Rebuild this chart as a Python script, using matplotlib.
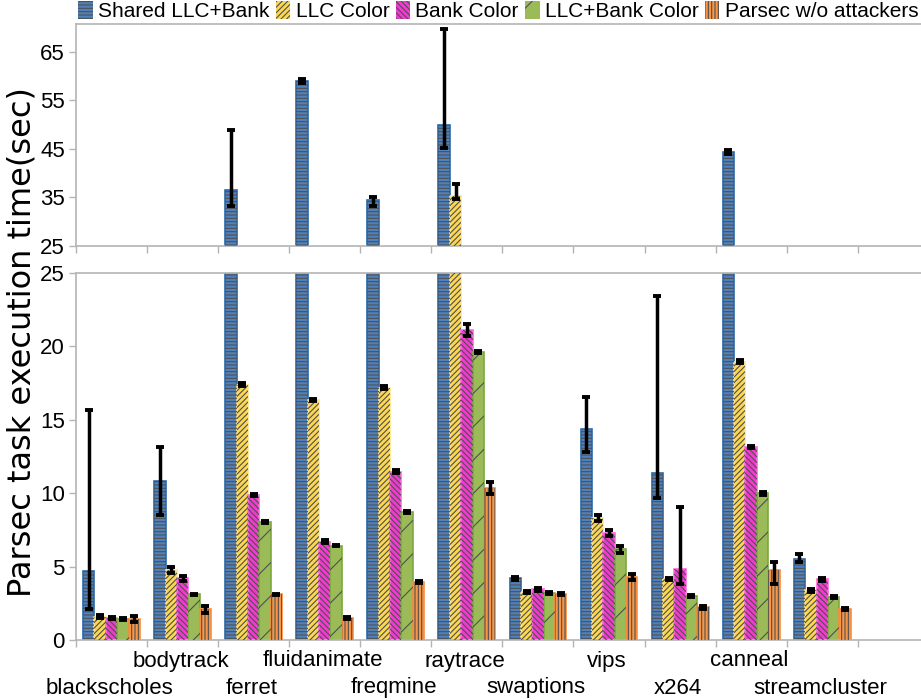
import matplotlib
matplotlib.use("Agg")
import matplotlib.pyplot as plt
from matplotlib.patches import Patch
from matplotlib.transforms import blended_transform_factory
import numpy as np

plt.rcParams['font.family'] = ['Liberation Sans', 'DejaVu Sans']
plt.rcParams['hatch.linewidth'] = 0.8

benchmarks = ['blackscholes', 'bodytrack', 'ferret', 'fluidanimate', 'freqmine',
              'raytrace', 'swaptions', 'vips', 'x264', 'canneal', 'streamcluster']

series_names = ['Shared LLC+Bank', 'LLC Color', 'Bank Color', 'LLC+Bank Color',
                'Parsec w/o attackers']

shared_llc_bank = [4.7, 10.8, 36.6, 59.0, 34.4, 50.0, 4.2, 14.4, 11.4, 44.4, 5.55]
llc_color = [1.6, 4.77, 17.4, 16.35, 17.2, 35.3, 3.25, 8.29, 4.13, 18.96, 3.38]
bank_color = [1.5, 4.2, 9.87, 6.7, 11.47, 21.1, 3.47, 7.27, 4.81, 13.15, 4.13]
llc_bank_color = [1.45, 3.1, 8.06, 6.43, 8.7, 19.6, 3.18, 6.18, 3.0, 9.99, 2.91]
parsec_alone = [1.41, 2.1, 3.1, 1.52, 3.93, 10.33, 3.13, 4.31, 2.23, 4.77, 2.11]

# error bar extents below / above each value
shared_err_minus = [2.6, 2.3, 3.4, 0.4, 1.2, 4.9, 0.1, 1.6, 1.7, 0.4, 0.25]
shared_err_plus = [11.0, 2.35, 12.2, 0.5, 0.7, 19.8, 0.1, 2.15, 12.0, 0.4, 0.3]
llc_err_minus = [0.08, 0.23, 0.08, 0.08, 0.1, 0.7, 0.06, 0.2, 0.06, 0.08, 0.08]
llc_err_plus = [0.08, 0.23, 0.08, 0.08, 0.1, 2.5, 0.06, 0.2, 0.06, 0.08, 0.08]
bank_err_minus = [0.06, 0.17, 0.08, 0.08, 0.12, 0.4, 0.1, 0.2, 1.0, 0.08, 0.08]
bank_err_plus = [0.06, 0.17, 0.08, 0.08, 0.12, 0.4, 0.1, 0.2, 4.27, 0.08, 0.08]
llcbank_err_minus = [0.06, 0.06, 0.06, 0.06, 0.08, 0.08, 0.06, 0.25, 0.06, 0.08, 0.06]
llcbank_err_plus = [0.06, 0.06, 0.06, 0.06, 0.08, 0.08, 0.06, 0.25, 0.06, 0.08, 0.06]
parsec_err_minus = [0.2, 0.23, 0.06, 0.06, 0.08, 0.4, 0.06, 0.2, 0.12, 0.96, 0.06]
parsec_err_plus = [0.2, 0.23, 0.06, 0.06, 0.08, 0.4, 0.06, 0.2, 0.12, 0.57, 0.06]

values = [shared_llc_bank, llc_color, bank_color, llc_bank_color, parsec_alone]
err_minus = [shared_err_minus, llc_err_minus, bank_err_minus, llcbank_err_minus, parsec_err_minus]
err_plus = [shared_err_plus, llc_err_plus, bank_err_plus, llcbank_err_plus, parsec_err_plus]

face_colors = ['#4f81bd', '#fcd752', '#f23ad0', '#9bbb59', '#f79646']
edge_colors = ['#2f6aa8', '#ffe58a', '#ff6ae0', '#7aa83e', '#fb8c3c']
hatches = ['-----', '//////', '\\\\\\\\\\\\', '/', '|||||']
hatch_color = '#505050'
spine_color = '#b4b4b4'

W, H = 921, 700
fig = plt.figure(figsize=(W / 100, H / 100), dpi=100)
left = 76 / W
width = (W - 76) / W
ax_top = fig.add_axes([left, 1 - 245.7 / H, width, (245.7 - 24) / H])
ax_bot = fig.add_axes([left, 1 - 640 / H, width, (640 - 273) / H])

x = np.arange(len(benchmarks))
bar_w = 0.16
offsets = (np.arange(5) - 2) * bar_w

for ax in (ax_top, ax_bot):
    for i in range(5):
        xs = x + offsets[i]
        ax.bar(xs, values[i], width=bar_w, color=face_colors[i],
               edgecolor=edge_colors[i], linewidth=1.2, zorder=2)
        ax.bar(xs, values[i], width=bar_w, color='none',
               edgecolor=hatch_color, linewidth=0, hatch=hatches[i], zorder=3)
        ax.errorbar(xs, values[i], yerr=[err_minus[i], err_plus[i]], fmt='none',
                    ecolor='black', elinewidth=2.5, capsize=2.6, capthick=2.8, zorder=4)
    ax.set_xlim(-0.5, 11.39)
    ax.set_xticks(np.arange(-0.5, 11.0, 1.0))
    ax.set_xticklabels([])
    ax.tick_params(axis='x', length=5, color=spine_color, width=1)
    ax.tick_params(axis='y', length=5, color=spine_color, width=1, labelsize=16, pad=3)
    ax.spines['right'].set_visible(False)
    for s in ('left', 'top', 'bottom'):
        ax.spines[s].set_color(spine_color)
        ax.spines[s].set_linewidth(1.2)

ax_top.set_ylim(25, 70.8)
ax_top.set_yticks([25, 35, 45, 55, 65])
ax_bot.set_ylim(0, 25)
ax_bot.set_yticks([0, 5, 10, 15, 20, 25])

# category names staggered on two rows
tr = blended_transform_factory(ax_bot.transData, fig.transFigure)
for i, name in enumerate(benchmarks):
    ypix = 688 if i % 2 == 0 else 661
    ax_bot.text(x[i] - 0.03, 1 - ypix / H, name, transform=tr, ha='center',
                va='center', fontsize=16)

fig.text(22 / W, 1 - 342 / H, 'Parsec task execution time(sec)', rotation=90,
         ha='center', va='center', fontsize=23, family=['DejaVu Sans'])

handles = [Patch(facecolor=face_colors[i], edgecolor=hatch_color, linewidth=0,
                 hatch=hatches[i]) for i in range(5)]
fig.legend(handles, series_names, loc='upper center', bbox_to_anchor=(0.541, 0.998),
           ncol=5, frameon=False, fontsize=15, handlelength=0.7, handleheight=0.9,
           handletextpad=0.25, columnspacing=0.3, borderaxespad=0, borderpad=0)

fig.savefig('out.png', dpi=100)
